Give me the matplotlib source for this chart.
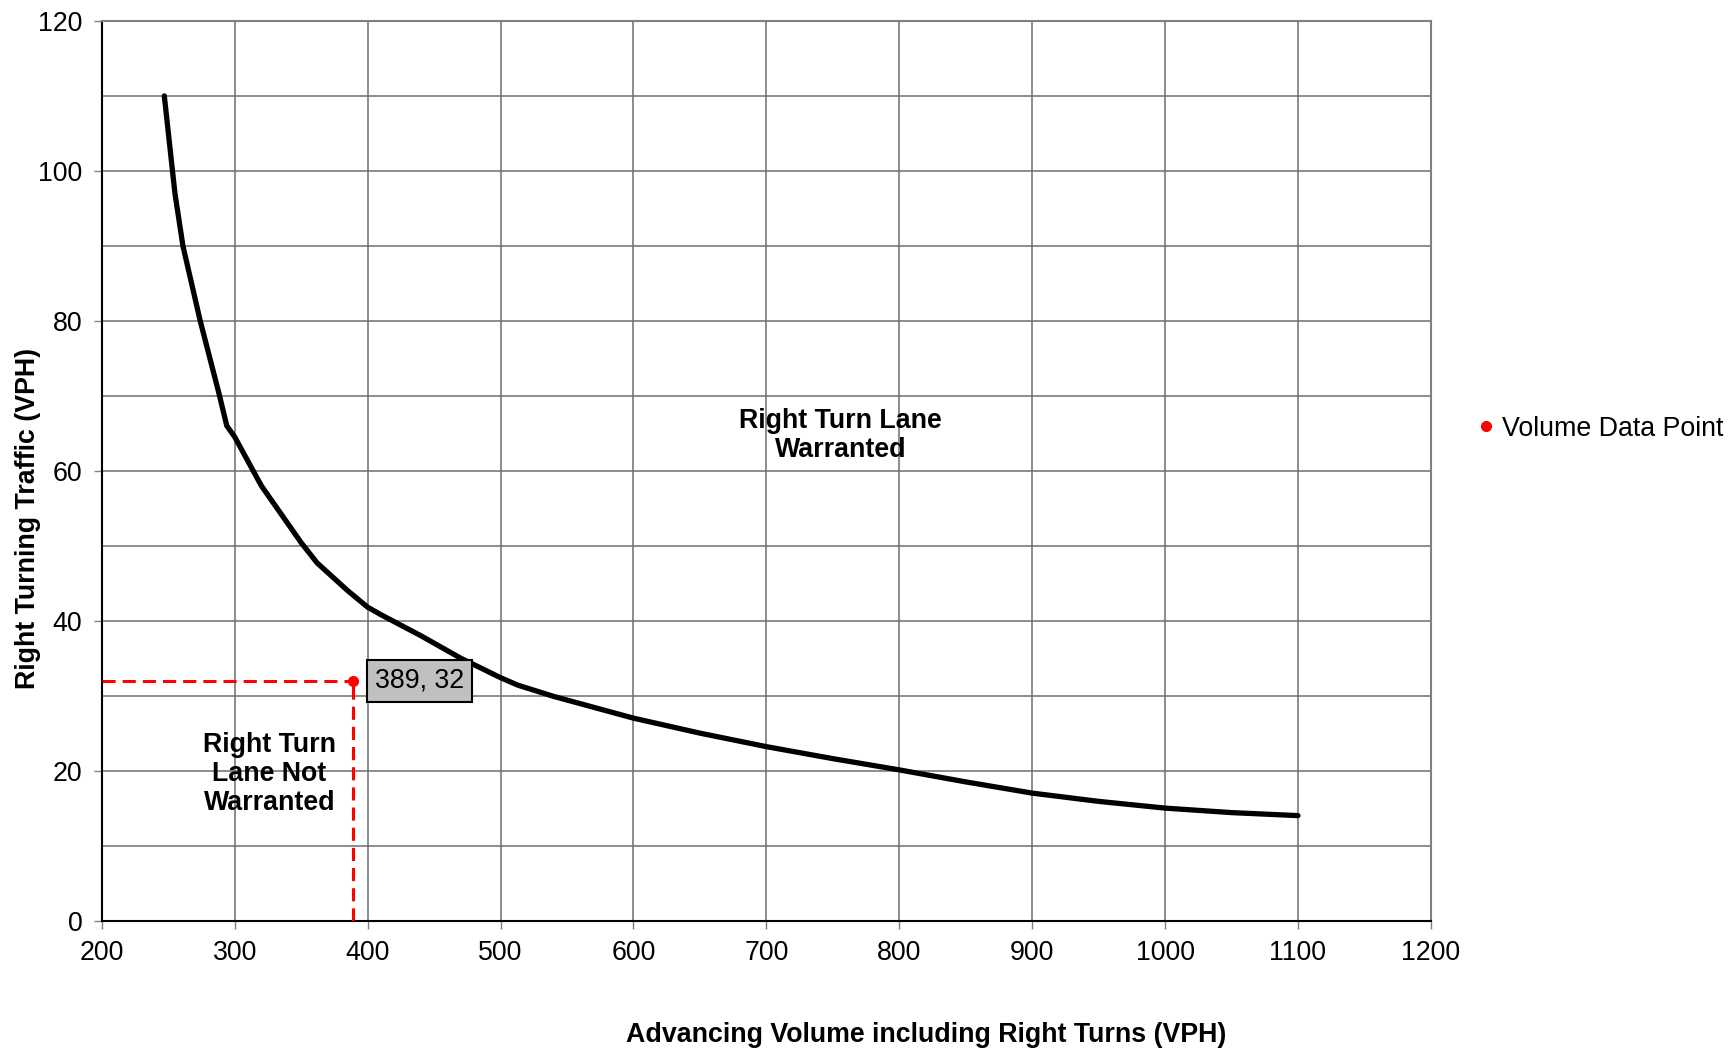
import matplotlib.pyplot as plt
from matplotlib.ticker import MultipleLocator

plt.rcParams['font.family'] = ['Liberation Sans', 'DejaVu Sans']

# warrant curve
curve_x = [247, 255, 261, 274, 288, 294, 300, 320, 350, 362, 385, 400, 410,
           425, 440, 470, 500, 513, 540, 600, 650, 700, 750, 800, 850, 900,
           950, 1000, 1050, 1100]
curve_y = [110, 97, 90, 80, 70.4, 66, 64.5, 58, 50.4, 47.7, 44, 41.8, 40.8,
           39.4, 38.0, 35.0, 32.4, 31.4, 29.9, 27.0, 25.0, 23.2, 21.6, 20.1,
           18.5, 17.0, 15.9, 15.0, 14.4, 14.0]

point_x = 389
point_y = 32
point_label = 'Volume Data Point'

fs = 19.3

fig = plt.figure(figsize=(17.35, 10.51), dpi=100)
ax = fig.add_axes([0.0587, 0.1241, 0.766, 0.856])

ax.set_xlim(200, 1200)
ax.set_ylim(0, 120)
ax.xaxis.set_major_locator(MultipleLocator(100))
ax.yaxis.set_major_locator(MultipleLocator(20))
ax.yaxis.set_minor_locator(MultipleLocator(10))
ax.grid(True, which='major', color='#6e6e6e', lw=1.1)
ax.grid(True, which='minor', axis='y', color='#6e6e6e', lw=1.1)
ax.set_axisbelow(True)
ax.tick_params(which='major', length=6, width=1, color='#808080',
               labelsize=fs, pad=8)
ax.tick_params(which='minor', length=0)
for side in ['top', 'right']:
    ax.spines[side].set_color('#808080')
    ax.spines[side].set_linewidth(1.5)
for side in ['left', 'bottom']:
    ax.spines[side].set_color('black')
    ax.spines[side].set_linewidth(1.5)

ax.plot(curve_x, curve_y, color='black', lw=3.8, solid_capstyle='round',
        solid_joinstyle='round', zorder=3)

# dashed guide lines to the data point
ax.plot([200, point_x], [point_y, point_y], color='#ff0000', lw=2.2,
        dashes=(4.3, 2.3), zorder=4)
ax.plot([point_x, point_x], [0, point_y], color='#ff0000', lw=2.2,
        dashes=(4.3, 2.3), zorder=4)
ax.plot([point_x], [point_y], 'o', color='#ff0000', ms=7, zorder=5,
        label=point_label)

ax.annotate(f'{point_x}, {point_y}', (point_x, point_y),
            xytext=(22, 0), textcoords='offset pixels', ha='left', va='center',
            fontsize=fs,
            bbox=dict(boxstyle='square,pad=0.3', fc='#c0c0c0', ec='black',
                      lw=1.5), zorder=6)

ax.text(756, 64.7, 'Right Turn Lane\nWarranted', ha='center', va='center',
        fontsize=fs, fontweight='bold', linespacing=1.15, zorder=6)
ax.text(326, 19.5, 'Right Turn\nLane Not\nWarranted', ha='center',
        va='center', fontsize=fs, fontweight='bold', linespacing=1.15, zorder=6)

ax.set_xlabel('Advancing Volume including Right Turns (VPH)', fontsize=fs,
              fontweight='bold')
ax.set_ylabel('Right Turning Traffic (VPH)', fontsize=fs, fontweight='bold')
ax.xaxis.set_label_coords(0.62, -0.113)
ax.yaxis.set_label_coords(-0.046, 0.447)

fig.legend(loc='center left', bbox_to_anchor=(0.844, 0.592), frameon=False,
           fontsize=fs, handlelength=0.6, handletextpad=0.3, borderpad=0)

fig.savefig('out.png', dpi=100)
